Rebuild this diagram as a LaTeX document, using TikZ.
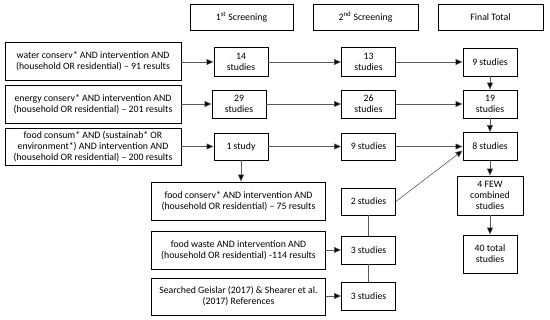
\documentclass[tikz,border=0pt]{standalone}
\usepackage{fontspec}
\setmainfont{Carlito}
\usetikzlibrary{arrows.meta,calc}
\begin{document}
\begin{tikzpicture}[x=1pt,y=-1pt,
  box/.style={draw=black,line width=0.9pt,rectangle,inner sep=0pt,align=center,
    font=\fontsize{9.8}{11}\selectfont,text=black},
  conn/.style={draw=black!65,line width=0.6pt},
  arr/.style={conn,-{Triangle[length=7pt,width=6pt,fill=black]}}]
\useasboundingbox (0,0) rectangle (550,320);
% headers
\node[box,minimum width=103pt,minimum height=26pt] (h1) at (241.5,17) {1\textsuperscript{st} Screening};
\node[box,minimum width=105pt,minimum height=26pt] (h2) at (365.5,17) {2\textsuperscript{nd} Screening};
\node[box,minimum width=105pt,minimum height=26pt] (h3) at (490.5,17) {Final Total};
% left search boxes
\node[box,minimum width=176pt,minimum height=38pt] (water) at (93,61.5) {water conserv* AND intervention AND\\(household OR residential) – 91 results};
\node[box,minimum width=176pt,minimum height=38pt] (energy) at (93,104) {energy conserv* AND intervention AND\\(household OR residential) – 201 results};
\node[box,minimum width=176pt,minimum height=37pt] (foodc) at (93,146.5) {food consum* AND (sustainab* OR\\environment*) AND intervention AND\\(household OR residential) – 200 results};
\node[box,minimum width=174pt,minimum height=38pt] (fcons) at (238.5,201) {food conserv* AND intervention AND\\(household OR residential) – 75 results};
\node[box,minimum width=174pt,minimum height=38pt] (fwaste) at (238.5,250) {food waste AND intervention AND\\(household OR residential) -114 results};
\node[box,minimum width=174pt,minimum height=37pt] (srch) at (238.5,296.5) {Searched Geislar (2017) \& Shearer et al.\\(2017) References};
% first screening
\node[box,minimum width=54pt,minimum height=29pt] (a14) at (241,62) {14\\studies};
\node[box,minimum width=54pt,minimum height=28pt] (a29) at (239,104) {29\\studies};
\node[box,minimum width=54pt,minimum height=27pt] (a1) at (241,146.5) {1 study};
% second screening
\node[box,minimum width=54pt,minimum height=29pt] (b13) at (368.5,62) {13\\studies};
\node[box,minimum width=54pt,minimum height=28pt] (b26) at (368.5,104) {26\\studies};
\node[box,minimum width=54pt,minimum height=27pt] (b9) at (368.5,146.5) {9 studies};
\node[box,minimum width=54pt,minimum height=27pt] (b2) at (368.5,201.5) {2 studies};
\node[box,minimum width=54pt,minimum height=28pt] (b3a) at (368.5,250) {3 studies};
\node[box,minimum width=54pt,minimum height=28pt] (b3b) at (368.5,296) {3 studies};
% final
\node[box,minimum width=54pt,minimum height=28pt] (c9) at (490,62) {9 studies};
\node[box,minimum width=54pt,minimum height=28pt] (c19) at (490,104) {19\\studies};
\node[box,minimum width=54pt,minimum height=28pt] (c8) at (490,146.5) {8 studies};
\node[box,minimum width=66pt,minimum height=39pt] (c4) at (490,195.5) {4 FEW\\combined\\studies};
\node[box,minimum width=54pt,minimum height=38pt] (c40) at (490,254) {40 total\\studies};
% connectors
\draw[arr] (water.east |- a14.west) -- (a14.west);
\draw[arr] (a14) -- (b13);
\draw[arr] (b13) -- (c9);
\draw[arr] (energy.east |- a29.west) -- (a29.west);
\draw[arr] (a29) -- (b26);
\draw[arr] (b26) -- (c19);
\draw[arr] (foodc.east |- a1.west) -- (a1.west);
\draw[arr] (a1) -- (b9);
\draw[arr] (b9) -- (c8);
\draw[arr] (a1.south) -- (a1.south |- fcons.north);
\draw[arr] (c9) -- (c19);
\draw[arr] (c19) -- (c8);
\draw[arr] (c8) -- (c4);
\draw[arr] (c4) -- (c40);
\draw[arr] (fwaste.east) -- (b3a.west);
\draw[arr] (srch.east |- b3b.west) -- (b3b.west);
\draw[conn] (b2) -- (b3a);
\draw[conn] (b3a) -- (b3b);
\draw[arr] (b2.east) -- ([yshift=-4pt]c8.west);
\end{tikzpicture}
\end{document}
